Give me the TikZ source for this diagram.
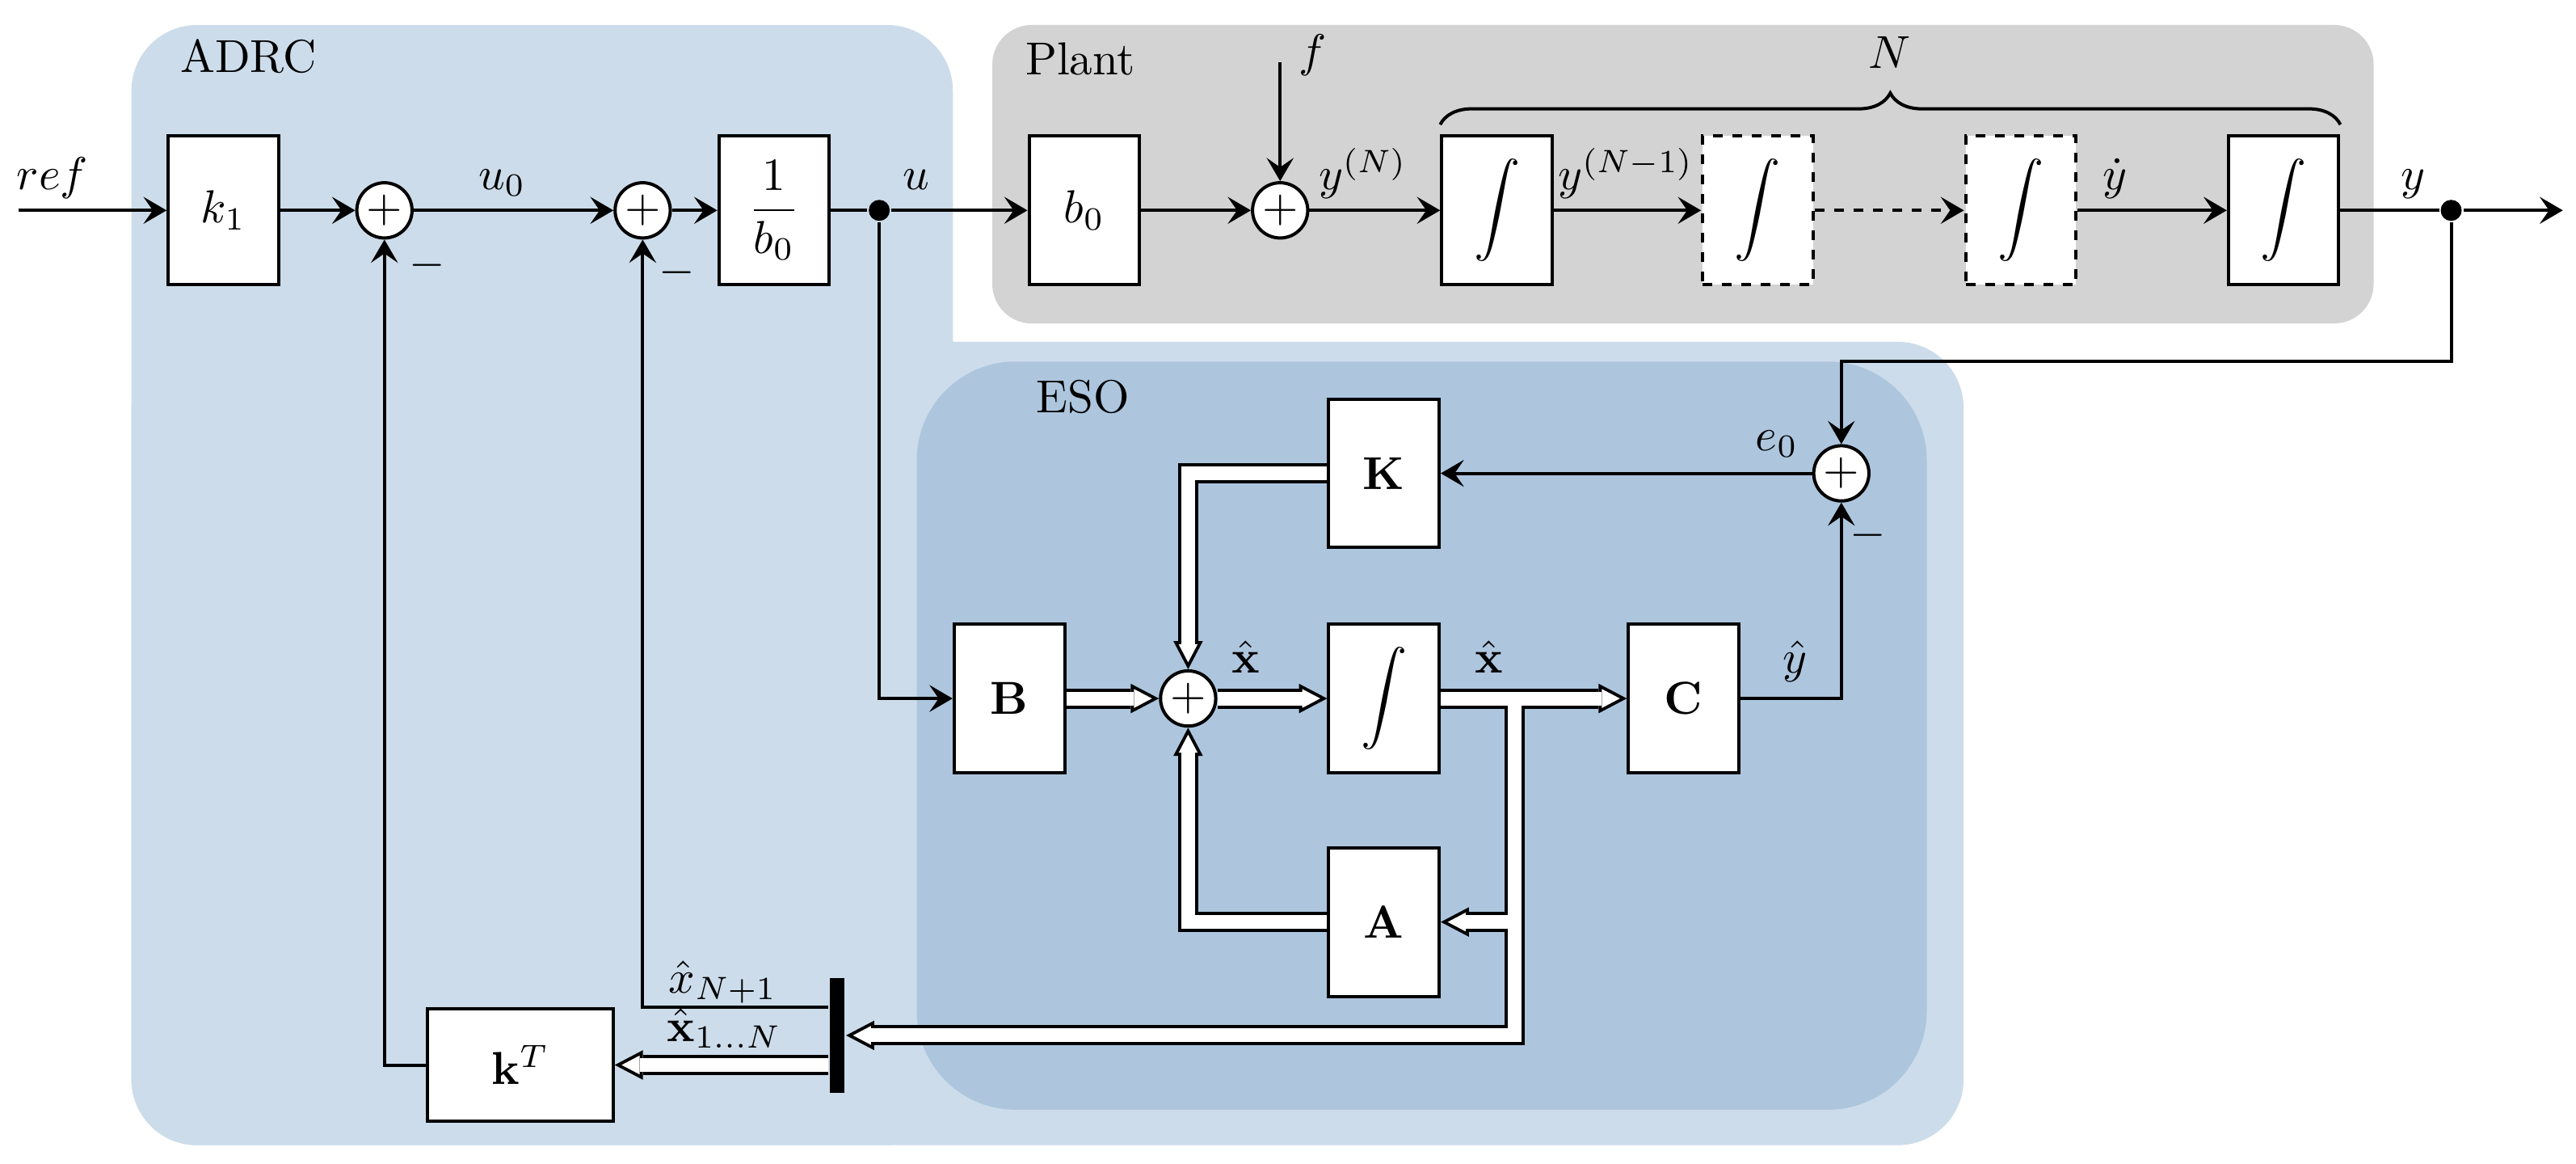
\documentclass[tikz,border=0pt]{standalone}
\usepackage{amsmath}
\usetikzlibrary{arrows.meta,calc,decorations.pathreplacing}
\definecolor{adrcbg}{HTML}{CCDCEA}
\definecolor{esobg}{HTML}{ADC6DE}
\definecolor{plantbg}{HTML}{D3D3D3}
\begin{document}
\begin{tikzpicture}[line width=0.7pt,font=\normalsize,
  >={Stealth[length=5pt,width=5.8pt,inset=2pt]},
  block/.style={draw,fill=white,minimum width=0.84cm,minimum height=1.13cm,inner sep=0pt},
  dblock/.style={block,dash pattern=on 2.1pt off 2.1pt},
  sumnode/.style={draw,circle,fill=white,minimum size=0.42cm,inner sep=0pt},
  dot/.style={circle,fill,minimum size=0.16cm,inner sep=0pt},
  conn/.style={->},
  vec/.style={draw=white,line width=3pt,shorten >=1.5pt,
    -{Triangle[length=3.9pt,width=4.1pt,line width=0pt]},
    preaction={draw=black,line width=4.4pt,shorten >=0pt,
      -{Triangle[length=6.1pt,width=6.4pt,line width=0pt]}}},
  lbl/.style={anchor=base,inner sep=0.5pt}]
  \useasboundingbox (0,0) rectangle (19.6,8.85);

  % 背景区域
  \fill[adrcbg,rounded corners=0.5cm] (1.0,0.14) rectangle (7.25,8.66);
  \fill[adrcbg,rounded corners=0.5cm] (1.0,0.14) rectangle (14.94,6.25);
  \fill[esobg,rounded corners=0.75cm] (6.975,0.41) rectangle (14.66,6.10);
  \fill[plantbg,rounded corners=0.3cm] (7.55,6.39) rectangle (18.06,8.66);

  \node[lbl] (tADRC) at (1.89,8.30) {ADRC};
  \node[lbl] (tPlant) at (8.22,8.28) {Plant};
  \node[lbl] (tESO) at (8.24,5.71) {ESO};

  % 主通道
  \coordinate (in) at (0.14,7.25);
  \node[block] (k1) at (1.70,7.25) {$k_1$};
  \node[sumnode] (s1) at (2.925,7.25) {$+$};
  \node[sumnode] (s2) at (4.89,7.25) {$+$};
  \node[block] (inv) at (5.89,7.25) {$\dfrac{1}{b_0}$};
  \node[dot] (udot) at (6.69,7.25) {};
  \node[block] (b0) at (8.25,7.25) {$b_0$};
  \node[sumnode] (s3) at (9.74,7.25) {$+$};
  \coordinate (fin) at (9.74,8.375);
  \node[block] (I1) at (11.39,7.25) {$\displaystyle\int$};
  \node[dblock] (I2) at (13.375,7.25) {$\displaystyle\int$};
  \node[dblock] (I3) at (15.375,7.25) {$\displaystyle\int$};
  \node[block] (I4) at (17.375,7.25) {$\displaystyle\int$};
  \node[dot] (ydot) at (18.65,7.25) {};
  \coordinate (out) at (19.5,7.25);

  % 观测器
  \node[block] (K) at (10.53,5.25) {$\mathbf{K}$};
  \node[sumnode] (sE) at (14.01,5.25) {$+$};
  \node[block] (B) at (7.68,3.5375) {$\mathbf{B}$};
  \node[sumnode] (s4) at (9.04,3.5375) {$+$};
  \node[block] (IE) at (10.53,3.5375) {$\displaystyle\int$};
  \node[block] (C) at (12.81,3.5375) {$\mathbf{C}$};
  \node[block] (A) at (10.53,1.8375) {$\mathbf{A}$};
  \coordinate (br) at (11.525,3.5375);
  \coordinate (fb) at (18.65,6.10);

  % 状态反馈
  \node[fill,minimum width=0.11cm,minimum height=0.875cm,inner sep=0pt] (bar) at (6.37,0.975) {};
  \node[block,minimum width=1.41cm,minimum height=0.85cm] (kT) at (3.96,0.75) {$\mathbf{k}^T$};

  % 连线
  \draw[conn] (in) -- (k1);
  \draw[conn] (k1) -- (s1);
  \draw[conn] (s1) -- (s2);
  \draw[conn] (s2) -- (inv);
  \draw (inv) -- (udot);
  \draw[conn] (udot) -- (b0);
  \draw[conn] (b0) -- (s3);
  \draw[conn] (fin) -- (s3);
  \draw[conn] (s3) -- (I1);
  \draw[conn] (I1) -- (I2);
  \draw[conn,dash pattern=on 2.1pt off 2.1pt] (I2) -- (I3);
  \draw[conn] (I3) -- (I4);
  \draw (I4) -- (ydot);
  \draw[conn] (ydot) -- (out);
  \draw[decorate,decoration={brace,amplitude=0.24cm}]
    ([yshift=0.075cm]I1.north west) -- ([yshift=0.075cm]I4.north east);

  \draw[conn] (ydot) -- (fb) -| (sE);
  \draw[conn] (sE) -- (K);
  \draw[conn] (C) -| (sE);
  \draw[conn] (udot) |- (B);
  \draw[vec] (B) -- (s4);
  \draw[vec] (s4) -- (IE);
  \draw[vec] (K) -| (s4);
  \draw[vec] (A) -| (s4);
  \draw[vec] (IE) -- (C);
  \draw[vec] ($(br)+(0,-1.5pt)$) |- (bar);
  \draw[vec] ($(br |- A)+(-1.5pt,0)$) -- (A);
  \draw[conn] ($(bar.west)+(0,0.215)$) -| (s2);
  \draw[vec] (bar.west |- kT) -- (kT);
  \draw[conn] (kT) -| (s1);

  % 标注
  \node[lbl] (lref) at (0.40,7.41) {$ref$};
  \node[lbl] (lu0) at (3.82,7.41) {$u_0$};
  \node[lbl] (lu) at (6.97,7.41) {$u$};
  \node[lbl] (lf) at (9.99,8.345) {$f$};
  \node[lbl] (lyN) at (10.37,7.41) {$y^{(N)}$};
  \node[lbl] (lyN1) at (12.37,7.41) {$y^{(N-1)}$};
  \node[lbl] (lyd) at (16.09,7.41) {$\dot{y}$};
  \node[lbl] (ly) at (18.36,7.41) {$y$};
  \node[lbl] (lN) at (14.38,8.33) {$N$};
  \node (m1) at (3.25,6.83) {$-$};
  \node (m2) at (5.15,6.775) {$-$};
  \node[lbl] (le0) at (13.52,5.425) {$e_0$};
  \node[lbl] (lx1) at (9.48,3.73) {$\hat{\mathbf{x}}$};
  \node[lbl] (lx2) at (11.33,3.73) {$\hat{\mathbf{x}}$};
  \node[lbl] (lyh) at (13.66,3.73) {$\hat{y}$};
  \node (m3) at (14.21,4.78) {$-$};
  \node[lbl] (lxN1) at (5.50,1.30) {$\hat{x}_{N+1}$};
  \node[lbl] (lx1N) at (5.51,0.93) {$\hat{\mathbf{x}}_{1\ldots N}$};
\end{tikzpicture}
\end{document}
